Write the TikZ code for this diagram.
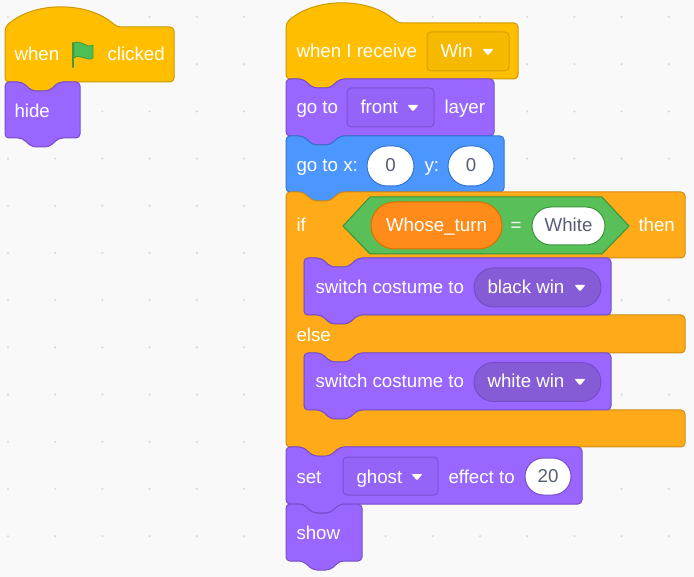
\documentclass[tikz,border=0pt]{standalone}
\usepackage{fontspec}
\setmainfont{Liberation Sans}
\usepackage{tikz}
\usetikzlibrary{shapes.misc}

\definecolor{canvas}{HTML}{F9F9F9}
\definecolor{griddot}{HTML}{DADADA}
\definecolor{eventfill}{HTML}{FFBF00}
\definecolor{eventline}{HTML}{CC9900}
\definecolor{looksfill}{HTML}{9966FF}
\definecolor{looksline}{HTML}{774DCB}
\definecolor{looksfield}{HTML}{855CD6}
\definecolor{motionfill}{HTML}{4C97FF}
\definecolor{motionline}{HTML}{3373CC}
\definecolor{controlfill}{HTML}{FFAB19}
\definecolor{controlline}{HTML}{CF8B17}
\definecolor{opfill}{HTML}{59C059}
\definecolor{opline}{HTML}{389438}
\definecolor{varfill}{HTML}{FF8C1A}
\definecolor{varline}{HTML}{DB6E00}
\definecolor{fieldtext}{HTML}{575E75}
\definecolor{flagfill}{HTML}{4CBF56}
\definecolor{flagline}{HTML}{45993D}

\tikzset{
	events/.style={fill=eventfill, draw=eventline},
	looks/.style={fill=looksfill, draw=looksline},
	motion/.style={fill=motionfill, draw=motionline},
	control/.style={fill=controlfill, draw=controlline},
	operators/.style={fill=opfill, draw=opline},
	blocktext/.style={text=white, font=\fontsize{18.7}{20}\selectfont, inner sep=0pt, text height=12pt, text depth=0pt, anchor=west},
	numfield/.style={rounded rectangle, fill=white, draw=#1, text=fieldtext, font=\fontsize{18.7}{20}\selectfont, inner sep=0pt, text height=12pt, text depth=0pt},
	varfield/.style={rounded rectangle, fill=varfill, draw=varline, text=white, font=\fontsize{18.7}{20}\selectfont, inner sep=0pt, text height=12pt, text depth=0pt},
	menufield/.style={rounded rectangle, fill=looksfield, draw=looksline, inner sep=0pt},
	boxfield/.style={fill=#1fill!97!black, draw=#1line!80!#1fill, rounded corners=4pt}
}

% stack block: style, x, y, width, height
\newcommand{\stackblock}[5]{\draw[#1, rounded corners=4pt] (#2,#3) -- (#2+17,#3) -- (#2+27,#3+9) -- (#2+44,#3+9) -- (#2+54,#3) -- (#2+#4,#3) -- (#2+#4,#3+#5) -- (#2+54,#3+#5) -- (#2+44,#3+#5+9) -- (#2+27,#3+#5+9) -- (#2+17,#3+#5) -- (#2,#3+#5) -- cycle;}
% hat block: style, x, y, width, height
\newcommand{\hatblock}[5]{\draw[#1, rounded corners=4pt] (#2,#3) .. controls (#2+29,#3-26) and (#2+83,#3-26) .. (#2+112,#3) -- (#2+#4,#3) -- (#2+#4,#3+#5) -- (#2+54,#3+#5) -- (#2+44,#3+#5+9) -- (#2+27,#3+#5+9) -- (#2+17,#3+#5) -- (#2,#3+#5) -- cycle;}
\newcommand{\droparrow}[2]{\fill[white, rounded corners=1pt] (#1-5.5,#2-3) -- (#1+5.5,#2-3) -- (#1,#2+3.5) -- cycle;}

\begin{document}
\begin{tikzpicture}[x=1pt, y=-1pt, line width=1pt]
	\useasboundingbox (0,0) rectangle (694,577);
	\fill[canvas] (0,0) rectangle (694,577);
	\foreach \i in {0,...,14}
		\foreach \j in {0,...,12}
			\fill[griddot] (8+47.2*\i, 17+47.2*\j) circle (1.2pt);

	% when flag clicked
	\hatblock{events}{5}{27}{169}{55}
	\node[blocktext] (when) at (14,55) {when};
	\draw[flagline, fill=flagfill, line width=0.8pt, line join=round] (74,43) .. controls (80,39) and (87,49) .. (93,45) -- (93,58) .. controls (87,62) and (80,53) .. (74,58) -- cycle;
	\draw[flagline, line width=2.4pt, line cap=round] (73,43) -- (73,67);
	\node[blocktext] (clicked) at (107,55) {clicked};
	\stackblock{looks}{5}{82}{75}{56}
	\node[blocktext] (hide) at (14,112) {hide};

	% when I receive
	\hatblock{events}{286}{23}{232}{56}
	\node[blocktext] (receive) at (296,52) {when I receive};
	\draw[boxfield=event] (427,32) rectangle (509,71);
	\node[blocktext] (win) at (440,52) {Win};
	\droparrow{488}{52}

	\stackblock{looks}{286}{79}{208}{57}
	\node[blocktext] (goto) at (296,108) {go to};
	\draw[boxfield=looks] (347,88) rectangle (434,127);
	\node[blocktext] (front) at (360,108) {front};
	\droparrow{413}{108}
	\node[blocktext] (layer) at (444,108) {layer};

	\stackblock{motion}{286}{136}{218}{56}
	\node[blocktext] (gotoxy) at (296,166) {go to x:};
	\node[numfield=motionline, minimum width=47pt, minimum height=40pt] (xval) at (390.5,166) {0};
	\node[blocktext] (ylabel) at (424,166) {y:};
	\node[numfield=motionline, minimum width=46pt, minimum height=40pt] (yval) at (471,166) {0};

	% if then else
	\draw[control, rounded corners=4pt] (286,192) -- (303,192) -- (313,201) -- (330,201) -- (340,192) -- (685,192) -- (685,258) -- (358,258) -- (348,267) -- (331,267) -- (321,258) -- (304,258) -- (304,315) -- (321,315) -- (331,324) -- (348,324) -- (358,315) -- (685,315) -- (685,353) -- (358,353) -- (348,362) -- (331,362) -- (321,353) -- (304,353) -- (304,410) -- (321,410) -- (331,419) -- (348,419) -- (358,410) -- (685,410) -- (685,447) -- (340,447) -- (330,456) -- (313,456) -- (303,447) -- (286,447) -- cycle;
	\node[blocktext] (if) at (296,226) {if};
	\draw[operators] (343,226) -- (370,197) -- (602,197) -- (629,226) -- (602,254) -- (370,254) -- cycle;
	\node[varfield, minimum width=131pt, minimum height=47pt] (whose) at (436.5,225.5) {Whose\_turn};
	\node[blocktext, anchor=center] (equals) at (516,226) {=};
	\node[numfield=opline, minimum width=73pt, minimum height=38pt] (white) at (568.5,226) {White};
	\node[blocktext] (then) at (638,226) {then};

	\stackblock{looks}{304}{258}{307}{57}
	\node[blocktext] (switchblack) at (315,288) {switch costume to};
	\node[menufield, minimum width=127pt, minimum height=39pt] (blackmenu) at (537.5,287.5) {};
	\node[blocktext] (black) at (487,288) {black win};
	\droparrow{580}{288}

	\node[blocktext] (else) at (296,336) {else};

	\stackblock{looks}{304}{353}{307}{57}
	\node[blocktext] (switchwhite) at (315,382) {switch costume to};
	\node[menufield, minimum width=127pt, minimum height=39pt] (whitemenu) at (537.5,382) {};
	\node[blocktext] (whitewin) at (487,382) {white win};
	\droparrow{580}{382}

	% effect and show
	\stackblock{looks}{286}{447}{296}{57}
	\node[blocktext] (set) at (296,477) {set};
	\draw[boxfield=looks] (343,457) rectangle (438,495);
	\node[blocktext] (ghost) at (356,477) {ghost};
	\droparrow{417}{477}
	\node[blocktext] (effect) at (448,477) {effect to};
	\node[numfield=looksline, minimum width=46pt, minimum height=37pt] (amount) at (548,476.5) {20};

	\stackblock{looks}{286}{504}{76}{57}
	\node[blocktext] (show) at (296,533) {show};
\end{tikzpicture}
\end{document}
